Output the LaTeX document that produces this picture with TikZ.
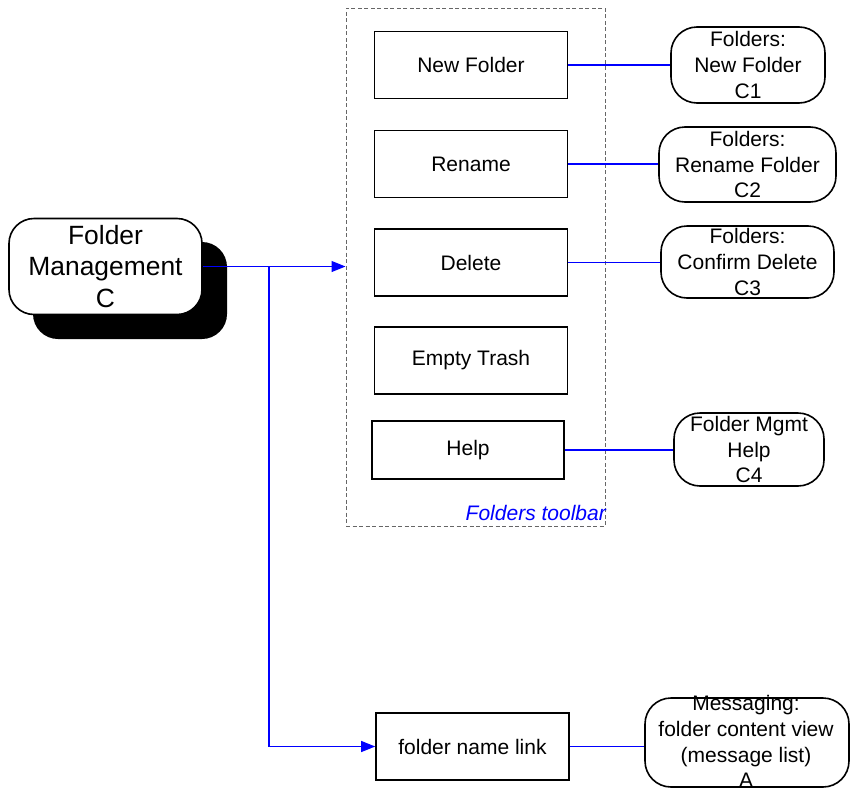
\documentclass[tikz,border=0pt]{standalone}
\usepackage{fontspec}
\setmainfont{Liberation Sans}
\usetikzlibrary{arrows.meta}
\begin{document}
\begin{tikzpicture}[x=1pt,y=-1pt,
  box/.style={draw=black,line width=1.6pt,inner sep=0pt,rectangle},
  rbox/.style={draw=black,line width=1.6pt,inner sep=0pt,rectangle,rounded corners=26pt},
  txt/.style={font=\fontsize{21}{25.8}\selectfont,align=center,inner sep=0pt},
  link/.style={draw=blue,line width=1.1pt},
  arr/.style={link,-{Triangle[length=14pt,width=11pt]}}
]
\useasboundingbox (0,0) rectangle (850,795);

% toolbar frame
\node[draw=black!60,dashed,dash pattern=on 4pt off 2.5pt,line width=1pt,inner sep=0pt,
      minimum width=259pt,minimum height=518pt] (tb) at (475.5,267) {};
\node[anchor=east,inner sep=0pt,text=blue,font=\fontsize{21}{24}\selectfont\itshape] (tbl) at (606,513) {Folders toolbar};

% main node
\node[fill=black,rounded corners=25pt,inner sep=0pt,minimum width=194pt,minimum height=97pt] (fmsh) at (130,290.5) {};
\node[draw=black,fill=white,line width=1.6pt,rounded corners=25pt,inner sep=0pt,minimum width=193pt,minimum height=96pt] (fm) at (105.5,266.5) {};
\node[inner sep=0pt,align=center,font=\fontsize{26.4}{31.5}\selectfont] (fmt) at (fm.center) {Folder\\Management\\C};

% toolbar buttons
\node[box,minimum width=193pt,minimum height=67pt] (nf) at (471,65) {};
\node[txt] (nft) at (nf.center) {New Folder};
\node[box,minimum width=193pt,minimum height=67pt] (rn) at (471,164) {};
\node[txt] (rnt) at (rn.center) {Rename};
\node[box,minimum width=193pt,minimum height=67pt] (dl) at (471,262.5) {};
\node[txt] (dlt) at (dl.center) {Delete};
\node[box,minimum width=193pt,minimum height=67pt] (et) at (471,360.5) {};
\node[txt] (ett) at (et.center) {Empty Trash};
\node[box,minimum width=192pt,minimum height=58pt] (hp) at (468,450) {};
\node[txt] (hpt) at (hp.center) {Help};

% folder name link
\node[box,minimum width=193pt,minimum height=67pt] (fl) at (472.5,746.5) {};
\node[txt] (flt) at (fl.center) {folder name link};

% targets
\node[rbox,minimum width=154pt,minimum height=76pt] (c1) at (748,65) {};
\node[txt] (c1t) at (c1.center) {Folders:\\New Folder\\C1};
\node[rbox,minimum width=177pt,minimum height=75pt] (c2) at (747.5,164.5) {};
\node[txt] (c2t) at (c2.center) {Folders:\\Rename Folder\\C2};
\node[rbox,minimum width=173pt,minimum height=72pt] (c3) at (747.5,262) {};
\node[txt] (c3t) at (c3.center) {Folders:\\Confirm Delete\\C3};
\node[rbox,minimum width=150pt,minimum height=73pt] (c4) at (749,449.5) {};
\node[txt] (c4t) at (c4.center) {Folder Mgmt\\Help\\C4};
\node[rbox,minimum width=204pt,minimum height=89pt] (ms) at (747,742.5) {};
\node[txt] (mst) at (746,741.5) {Messaging:\\folder content view\\(message list)\\A};

% connectors
\draw[arr] (fm.east) -- (fm.east -| tb.west);
\coordinate (br) at (269,266.5);
\draw[arr] (br) |- (fl.west);
\draw[link] (nf.east) -- (nf.east -| c1.west);
\draw[link] (rn.east) -- (rn.east -| c2.west);
\draw[link] (dl.east) -- (dl.east -| c3.west);
\draw[link] (hp.east) -- (hp.east -| c4.west);
\draw[link] (fl.east) -- (fl.east -| ms.west);
\end{tikzpicture}
\end{document}
